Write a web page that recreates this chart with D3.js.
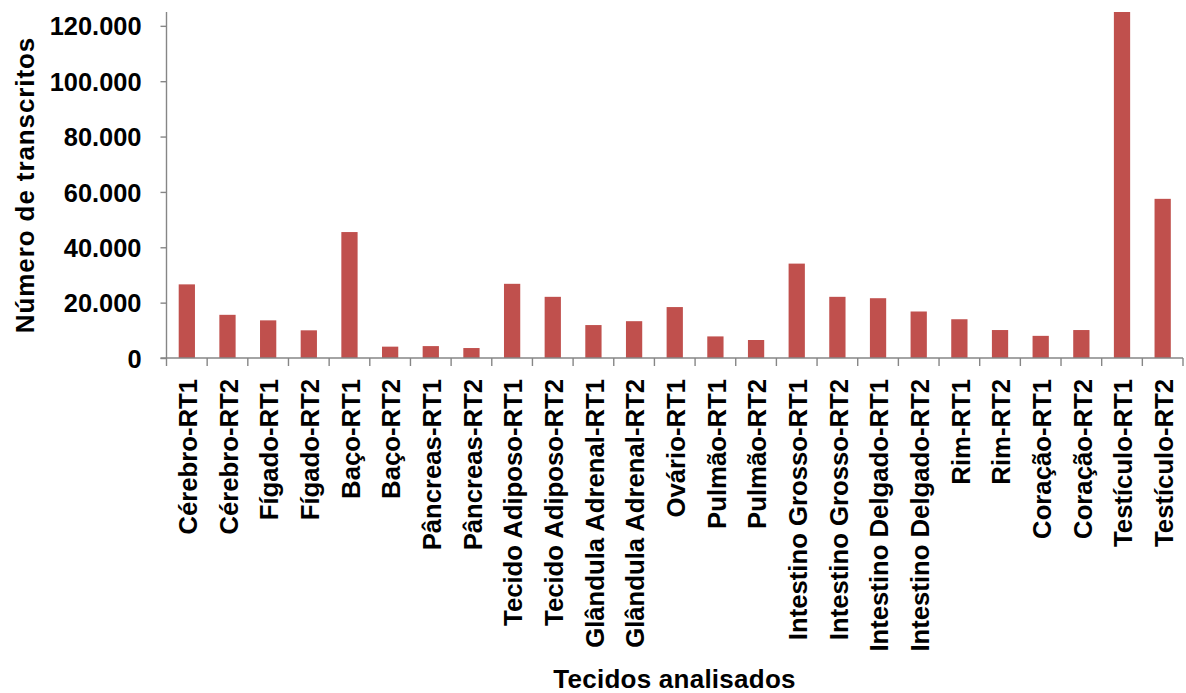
<!DOCTYPE html>
<html>
<head>
<meta charset="utf-8">
<script src="https://cdn.jsdelivr.net/npm/d3@7"></script>
<style>
  html, body { margin: 0; padding: 0; background: #fff; }
  svg { display: block; font-family: "Liberation Sans", Arial, sans-serif; font-weight: bold; }
</style>
</head>
<body>
<svg id="chart" width="1186" height="693"></svg>
<script>
// Tissue samples (two technical replicates each)
const categories = [
  "Cérebro-RT1", "Cérebro-RT2", "Fígado-RT1", "Fígado-RT2", "Baço-RT1", "Baço-RT2",
  "Pâncreas-RT1", "Pâncreas-RT2", "Tecido Adiposo-RT1", "Tecido Adiposo-RT2",
  "Glândula Adrenal-RT1", "Glândula Adrenal-RT2", "Ovário-RT1", "Pulmão-RT1", "Pulmão-RT2",
  "Intestino Grosso-RT1", "Intestino Grosso-RT2", "Intestino Delgado-RT1", "Intestino Delgado-RT2",
  "Rim-RT1", "Rim-RT2", "Coração-RT1", "Coração-RT2", "Testículo-RT1", "Testículo-RT2"
];

// Number of transcripts per sample
const transcripts = [
  26600, 15600, 13600, 10000, 45500, 4100,
  4300, 3600, 26800, 22100,
  11900, 13300, 18400, 7800, 6500,
  34100, 22100, 21600, 16800,
  14000, 10100, 8000, 10100, 125000, 57500
];

const yTicks = [0, 20000, 40000, 60000, 80000, 100000, 120000];
const yMax = 125000;

const xTitle = "Tecidos analisados";
const yTitle = "Número de transcritos";

const svg = d3.select("#chart");
const plot = { left: 166.5, right: 1183, top: 12, bottom: 358 };
const axisColor = "#868686";
const barColor = "#C0504D";
const fontFamily = "'Liberation Sans', Arial, sans-serif";

const ptBR = d3.formatLocale({ decimal: ",", thousands: ".", grouping: [3], currency: ["R$", ""] });
const fmt = ptBR.format(",d");

const x = d3.scaleBand()
  .domain(categories)
  .range([plot.left, plot.right])
  .paddingInner(0.6)
  .paddingOuter(0.3);

const y = d3.scaleLinear()
  .domain([0, yMax])
  .range([plot.bottom, plot.top])
  .clamp(true);

// Bars
svg.append("g")
  .selectAll("rect")
  .data(categories)
  .join("rect")
  .attr("x", d => x(d))
  .attr("width", x.bandwidth())
  .attr("y", (d, i) => y(transcripts[i]))
  .attr("height", (d, i) => y(0) - y(transcripts[i]))
  .attr("fill", barColor);

// Y axis
const yAxis = svg.append("g")
  .attr("transform", `translate(${plot.left},0)`)
  .call(d3.axisLeft(y).tickValues(yTicks).tickFormat(fmt).tickSize(6).tickPadding(19));
yAxis.select(".domain")
  .attr("d", `M0,${plot.top}V${plot.bottom}`)
  .attr("stroke", axisColor).attr("stroke-width", 1.4);
yAxis.selectAll(".tick line").attr("stroke", axisColor).attr("stroke-width", 1.4);
yAxis.selectAll(".tick text")
  .attr("fill", "#000")
  .attr("dy", "0.36em")
  .style("font-size", "25.4px")
  .style("font-weight", "bold")
  .style("font-family", fontFamily);

// X axis: line with ticks on category boundaries
const xg = svg.append("g");
const step = x.step();
xg.append("line")
  .attr("x1", plot.left - 6).attr("x2", plot.right)
  .attr("y1", plot.bottom).attr("y2", plot.bottom)
  .attr("stroke", axisColor).attr("stroke-width", 1.4);
xg.selectAll("line.tick")
  .data(d3.range(categories.length + 1))
  .join("line")
  .attr("class", "tick")
  .attr("x1", i => plot.left + i * step)
  .attr("x2", i => plot.left + i * step)
  .attr("y1", plot.bottom)
  .attr("y2", plot.bottom + 8)
  .attr("stroke", axisColor).attr("stroke-width", 1.4);

// Category labels, rotated
xg.selectAll("text.cat")
  .data(categories)
  .join("text")
  .attr("class", "cat")
  .attr("transform", d => `translate(${x(d) + x.bandwidth() / 2},379) rotate(-90)`)
  .attr("text-anchor", "end")
  .attr("dy", "0.4em")
  .style("font-size", "25.7px")
  .attr("fill", "#000")
  .text(d => d);

// Axis titles
svg.append("text")
  .attr("x", 674.5).attr("y", 688)
  .attr("text-anchor", "middle")
  .style("font-size", "26px")
  .style("letter-spacing", "0.25px")
  .attr("fill", "#000")
  .text(xTitle);

svg.append("text")
  .attr("transform", "translate(34,185) rotate(-90)")
  .attr("text-anchor", "middle")
  .style("font-size", "26px")
  .style("letter-spacing", "0.9px")
  .attr("fill", "#000")
  .text(yTitle);
</script>
</body>
</html>
